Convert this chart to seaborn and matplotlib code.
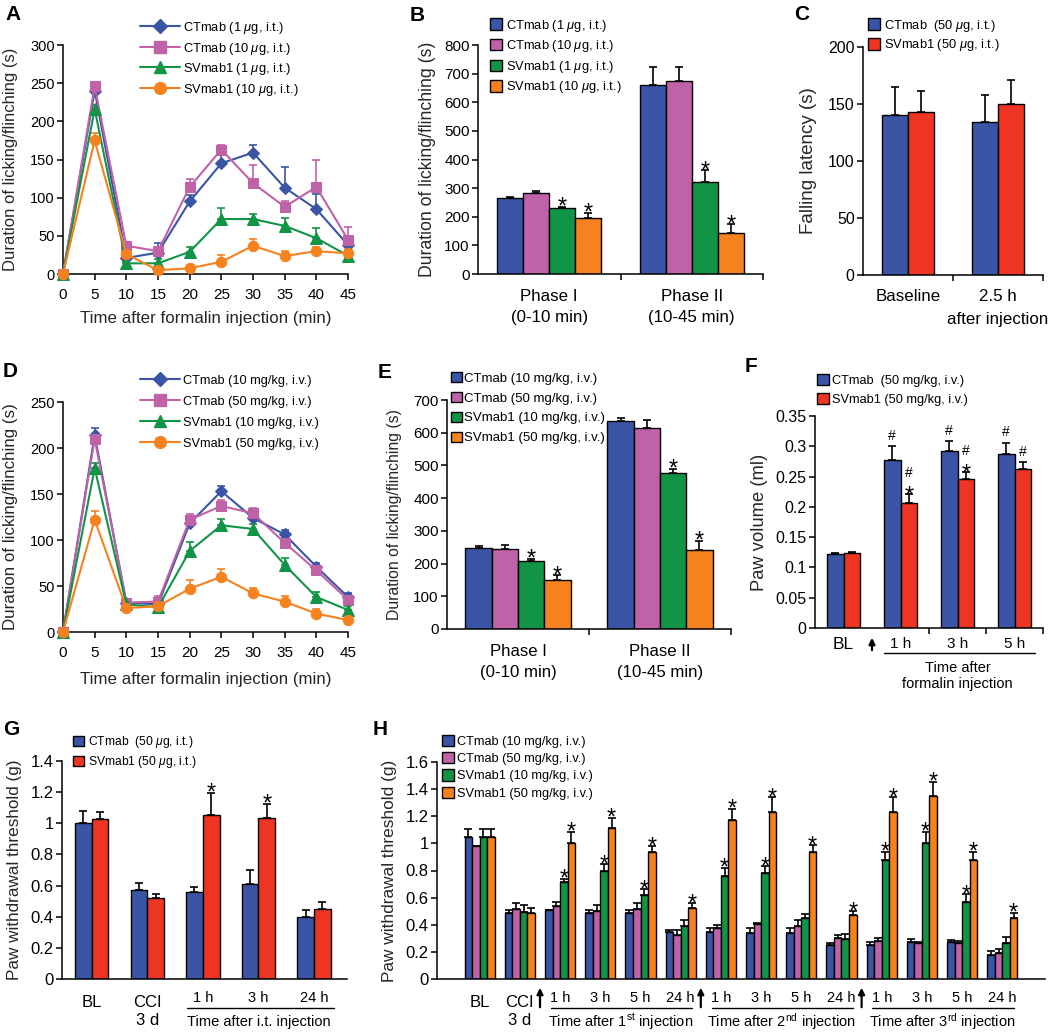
import numpy as np
import pandas as pd
import matplotlib
matplotlib.use("Agg")
import matplotlib.pyplot as plt
import seaborn as sns
from matplotlib.patches import Patch
from matplotlib.lines import Line2D
from matplotlib.ticker import FuncFormatter
from matplotlib.transforms import blended_transform_factory, ScaledTranslation

# ----------------------------------------------------------------------------
# data
# ----------------------------------------------------------------------------
times = [0, 5, 10, 15, 20, 25, 30, 35, 40, 45]

# A  (intrathecal, formalin time course)
a_names = [r"CTmab (1 $\mu$g, i.t.)", r"CTmab (10 $\mu$g, i.t.)",
           r"SVmab1 (1 $\mu$g, i.t.)", r"SVmab1 (10 $\mu$g, i.t.)"]
a_ct1 = [0, 240, 21, 28, 95, 145, 159, 113, 85, 38]
a_ct10 = [0, 246, 37, 30, 114, 163, 119, 88, 114, 45]
a_sv1 = [0, 216, 14, 14, 29, 72, 72, 63, 47, 24]
a_sv10 = [0, 175, 26, 5, 7.5, 16, 37, 23.5, 30, 27]
a_ct1_sem = [0, 4, 4, 12, 9, 14, 10, 27, 20, 8]
a_ct10_sem = [0, 3, 5, 5, 10, 6, 24, 8, 36, 17]
a_sv1_sem = [0, 5, 3, 6, 6, 14, 6, 11, 13, 4]
a_sv10_sem = [0, 10, 3, 2, 2, 9, 9, 6, 6, 4]

# D  (intravenous, formalin time course)
d_names = ["CTmab (10 mg/kg, i.v.)", "CTmab (50 mg/kg, i.v.)",
           "SVmab1 (10 mg/kg, i.v.)", "SVmab1 (50 mg/kg, i.v.)"]
d_ct10 = [0, 214, 32, 30, 118, 153, 124, 106, 71, 38]
d_ct50 = [0, 210, 32, 33, 122, 137, 129, 97, 67, 35]
d_sv10 = [0, 178, 30, 27, 88, 116, 112, 73, 38, 24]
d_sv50 = [0, 122, 26, 28, 47, 60, 42, 33, 20, 13]
d_ct10_sem = [0, 8, 3, 3, 4, 6, 4, 5, 4, 4]
d_ct50_sem = [0, 5, 4, 6, 6, 6, 6, 5, 4, 4]
d_sv10_sem = [0, 6, 3, 3, 10, 7, 5, 7, 6, 4]
d_sv50_sem = [0, 10, 3, 3, 9, 9, 6, 6, 5, 3]

# B
phases = ["Phase I\n(0-10 min)", "Phase II\n(10-45 min)"]
b_ct1 = [264, 660]
b_ct10 = [282, 674]
b_sv1 = [232, 322]
b_sv10 = [197, 144]
b_sems = [[6, 62], [8, 50], [3, 41], [17, 30]]
b_stars = [[0, 0], [0, 0], [1, 1], [1, 1]]

# C
c_names = [r"CTmab  (50 $\mu$g, i.t.)", r"SVmab1 (50 $\mu$g, i.t.)"]
c_cats = ["Baseline", "2.5 h\nafter injection"]
c_ct = [140, 134]
c_sv = [143, 150]
c_sems = [[25, 24], [18, 21]]

# E
e_ct10 = [247, 636]
e_ct50 = [245, 615]
e_sv10 = [209, 476]
e_sv50 = [149, 241]
e_sems = [[8, 10], [13, 25], [6, 14], [15, 28]]
e_stars = [[0, 0], [0, 0], [1, 1], [1, 1]]

# F
f_names = ["CTmab  (50 mg/kg, i.v.)", "SVmab1 (50 mg/kg, i.v.)"]
f_cats = ["BL", "1 h", "3 h", "5 h"]
f_ct = [0.122, 0.278, 0.292, 0.288]
f_sv = [0.123, 0.207, 0.246, 0.263]
f_sems = [[0.002, 0.022, 0.016, 0.018], [0.002, 0.014, 0.011, 0.011]]
f_hash = [[0, 1, 1, 1], [0, 1, 1, 1]]
f_stars = [[0, 0, 0, 0], [0, 1, 1, 0]]

# G
g_names = [r"CTmab  (50 $\mu$g, i.t.)", r"SVmab1 (50 $\mu$g, i.t.)"]
g_cats = ["BL", "CCI\n3 d", "1 h", "3 h", "24 h"]
g_ct = [1.0, 0.573, 0.557, 0.608, 0.395]
g_sv = [1.028, 0.518, 1.054, 1.032, 0.447]
g_sems = [[0.078, 0.042, 0.032, 0.092, 0.048], [0.046, 0.03, 0.14, 0.095, 0.045]]
g_stars = [[0, 0, 0, 0, 0], [0, 0, 1, 1, 0]]

# H
h_keys = ["BL", "CCI", "1h_1", "3h_1", "5h_1", "24h_1", "1h_2", "3h_2", "5h_2",
          "24h_2", "1h_3", "3h_3", "5h_3", "24h_3"]
h_labels = ["BL", "CCI\n3 d", "1 h", "3 h", "5 h", "24 h", "1 h", "3 h", "5 h",
            "24 h", "1 h", "3 h", "5 h", "24 h"]
h_ct10 = [1.045, 0.488, 0.51, 0.49, 0.49, 0.345, 0.348, 0.336, 0.336, 0.25, 0.25, 0.275, 0.27, 0.177]
h_ct50 = [0.98, 0.513, 0.54, 0.50, 0.513, 0.324, 0.378, 0.405, 0.39, 0.304, 0.28, 0.263, 0.263, 0.194]
h_sv10 = [1.045, 0.496, 0.712, 0.80, 0.618, 0.393, 0.76, 0.778, 0.447, 0.297, 0.874, 1.004, 0.567, 0.267]
h_sv50 = [1.045, 0.488, 1.004, 1.112, 0.937, 0.52, 1.175, 1.23, 0.937, 0.471, 1.23, 1.347, 0.874, 0.452]
h_sems = [
    [0.06, 0.022, 0.0, 0.018, 0.018, 0.016, 0.03, 0.04, 0.04, 0.017, 0.02, 0.018, 0.02, 0.03],
    [0.0, 0.044, 0.03, 0.042, 0.044, 0.036, 0.02, 0.005, 0.044, 0.02, 0.02, 0.01, 0.017, 0.024],
    [0.06, 0.049, 0.029, 0.047, 0.042, 0.041, 0.06, 0.052, 0.029, 0.032, 0.063, 0.081, 0.059, 0.04],
    [0.06, 0.032, 0.081, 0.078, 0.043, 0.037, 0.081, 0.11, 0.05, 0.029, 0.11, 0.106, 0.063, 0.038],
]
h_stars = [
    [0] * 14,
    [0] * 14,
    [0, 0, 1, 1, 1, 0, 1, 1, 0, 0, 1, 1, 1, 0],
    [0, 0, 1, 1, 1, 1, 1, 1, 1, 1, 1, 1, 1, 1],
]
h_groups = ["Time after 1$^{\\rm st}$ injection", "Time after 2$^{\\rm nd}$ injection",
            "Time after 3$^{\\rm rd}$ injection"]

BLUE = "#3a55a5"
PINK = "#c062a8"
GREEN = "#129447"
ORANGE = "#f5821f"
RED = "#ee3524"
four_colors = [BLUE, PINK, GREEN, ORANGE]
two_colors = [BLUE, RED]

# ----------------------------------------------------------------------------
W, H = 1050, 1032
sns.set_theme(style="ticks")
plt.rcParams["font.family"] = ["Liberation Sans", "DejaVu Sans"]
plt.rcParams["mathtext.fontset"] = "custom"
plt.rcParams["mathtext.rm"] = "Liberation Sans"
plt.rcParams["mathtext.it"] = "Liberation Sans:italic"
plt.rcParams["axes.linewidth"] = 1.1
plt.rcParams["axes.edgecolor"] = "black"
plt.rcParams["text.color"] = "black"
plt.rcParams["xtick.color"] = "black"
plt.rcParams["ytick.color"] = "black"

fig = plt.figure(figsize=(W / 100, H / 100), dpi=100)
fmt = FuncFormatter(lambda v, _: f"{round(v, 4):g}")


def add_ax(x0, y0, x1, y1):
    ax = fig.add_axes([x0 / W, 1 - y1 / H, (x1 - x0) / W, (y1 - y0) / H])
    return ax


def fy(y):
    return 1 - y / H


def finish_axes(ax, ylabel, label_right_px, ax_left, ax_w, tick_fs, label_fs):
    sns.despine(ax=ax)
    ax.tick_params(axis="y", direction="out", length=4, width=1.1, labelsize=tick_fs, pad=2)
    ax.set_ylabel(ylabel, fontsize=label_fs)
    ax.yaxis.set_label_coords((label_right_px - ax_left) / ax_w, 0.5)
    ax.yaxis.set_major_formatter(fmt)


def legend(ax, handles, labels, x, y, fs=9.3, ls=0.34, hl=0.95, hh=0.95, htp=0.25):
    ax.legend(handles, labels, loc="upper left", bbox_to_anchor=(x / W, fy(y)),
              bbox_transform=fig.transFigure, frameon=False, borderpad=0,
              borderaxespad=0, fontsize=fs, labelspacing=ls, handlelength=hl,
              handleheight=hh, handletextpad=htp)


def patches(colors):
    return [Patch(facecolor=c, edgecolor="black", linewidth=1) for c in colors]


def bars(ax, cats, names, series, sems, colors, width):
    rows = []
    for n, vals in zip(names, series):
        for c, v in zip(cats, vals):
            rows.append((c, n, v))
    df = pd.DataFrame(rows, columns=["cat", "grp", "val"])
    sns.barplot(data=df, x="cat", y="val", hue="grp", order=cats, hue_order=names,
                palette=colors, width=width, edgecolor="black", linewidth=1,
                errorbar=None, legend=False, saturation=1, ax=ax)
    tops = []
    for cont, sem in zip(ax.containers, sems):
        xs = np.array([b.get_x() + b.get_width() / 2 for b in cont])
        ys = np.array([b.get_height() for b in cont])
        ax.errorbar(xs, ys, yerr=[np.zeros(len(ys)), sem], fmt="none", ecolor="black",
                    elinewidth=1.2, capsize=3, capthick=1.2, zorder=3)
        tops.append((xs, ys + np.array(sem)))
    ax.set_xlabel("")
    return tops


def marks(ax, tops, flags, text="*", size=17, dy=-5):
    for (xs, ys), fl in zip(tops, flags):
        for x, y, f in zip(xs, ys, fl):
            if f:
                ax.annotate(text, (x, y), xytext=(0, dy), textcoords="offset points",
                            ha="center", va="baseline", fontsize=size)


def time_course(ax, series, sems, ymax, ystep):
    markers = ["D", "s", "^", "o"]
    msizes = [6, 7, 8, 7.5]
    handles = []
    for vals, sem, c, m, ms in zip(series, sems, four_colors, markers, msizes):
        ax.errorbar(times, vals, yerr=[np.zeros(len(vals)), sem], fmt="none", ecolor=c,
                    elinewidth=1.2, capsize=3, capthick=1.2, zorder=2, clip_on=False)
        sns.lineplot(x=times, y=vals, color=c, marker=m, markersize=ms, markeredgecolor=c,
                     linewidth=1.5, ax=ax, legend=False, zorder=3)
        ax.lines[-1].set_clip_on(False)
        handles.append(Line2D([0], [0], color=c, marker=m, markersize=ms + 1,
                              markeredgecolor=c, lw=1.5))
    ax.set_xlim(0, 45)
    ax.set_ylim(0, ymax)
    ax.set_xticks(times)
    ax.set_yticks(np.arange(0, ymax + 1, ystep))
    ax.tick_params(axis="x", direction="out", length=4, width=1.1, labelsize=11, pad=6)
    return handles


# ---------------------------- A ---------------------------------------------
axA = add_ax(63, 45, 348, 274)
hA = time_course(axA, [a_ct1, a_ct10, a_sv1, a_sv10],
                 [a_ct1_sem, a_ct10_sem, a_sv1_sem, a_sv10_sem], 300, 50)
finish_axes(axA, "Duration of licking/flinching (s)", 18, 63, 285, 10.5, 12)
axA.set_xlabel("Time after formalin injection (min)", fontsize=12.2)
axA.xaxis.set_label_coords(0.5, -(311 - 274) / 229)
legend(axA, hA, a_names, 140, 20.5, hl=3.1, htp=0.25)

# ---------------------------- D ---------------------------------------------
axD = add_ax(63, 402, 348, 632)
hD = time_course(axD, [d_ct10, d_ct50, d_sv10, d_sv50],
                 [d_ct10_sem, d_ct50_sem, d_sv10_sem, d_sv50_sem], 250, 50)
finish_axes(axD, "Duration of licking/flinching (s)", 18, 63, 285, 10.5, 12.2)
axD.set_xlabel("Time after formalin injection (min)", fontsize=12.2)
axD.xaxis.set_label_coords(0.5, -(672 - 632) / 230)
legend(axD, hD, d_names, 140, 374.5, fs=9.2, ls=0.62, hl=3.1, htp=0.25)


def phase_axes(ax, n, fs, pad, ls):
    ax.set_xlim(-0.5, n - 0.5)
    ax.set_xticks(np.arange(0.5, n, 1.0), minor=True)
    ax.tick_params(axis="x", which="minor", direction="out", length=4, width=1.1)
    ax.tick_params(axis="x", which="major", length=0, labelsize=fs, pad=pad)
    for t in ax.get_xticklabels():
        t.set_linespacing(ls)


# ---------------------------- B ---------------------------------------------
axB = add_ax(478, 45, 763, 274)
tB = bars(axB, phases, a_names, [b_ct1, b_ct10, b_sv1, b_sv10], b_sems, four_colors, 0.73)
axB.set_ylim(0, 800)
axB.set_yticks(np.arange(0, 801, 100))
phase_axes(axB, 2, 12.2, 10.5, 1.5)
finish_axes(axB, "Duration of licking/flinching (s)", 436, 478, 285, 11, 12.7)
marks(axB, tB, b_stars)
legend(axB, patches(four_colors), a_names, 490, 17.5, ls=0.36)

# ---------------------------- C ---------------------------------------------
axC = add_ax(863, 47, 1043, 275)
tC = bars(axC, c_cats, c_names, [c_ct, c_sv], c_sems, two_colors, 0.57)
axC.set_ylim(0, 200)
axC.set_yticks(np.arange(0, 201, 50))
phase_axes(axC, 2, 12.2, 10, 1.65)
finish_axes(axC, "Falling latency (s)", 817, 863, 180, 11.5, 13.5)
legend(axC, patches(two_colors), c_names, 868, 17.5, ls=0.3)

# ---------------------------- E ---------------------------------------------
axE = add_ax(447, 400, 731, 629)
tE = bars(axE, phases, d_names, [e_ct10, e_ct50, e_sv10, e_sv50], e_sems, four_colors, 0.74)
axE.set_ylim(0, 700)
axE.set_yticks(np.arange(0, 701, 100))
phase_axes(axE, 2, 12.1, 11, 1.45)
finish_axes(axE, "Duration of licking/flinching (s)", 402, 447, 284, 11, 11.3)
marks(axE, tE, e_stars)
legend(axE, patches(four_colors), d_names, 451, 372, fs=9.5, ls=0.55, hl=0.8, hh=0.8, htp=0.15)

# ---------------------------- F ---------------------------------------------
axF = add_ax(815, 416, 1043, 628)
tF = bars(axF, f_cats, f_names, [f_ct, f_sv], f_sems, two_colors, 0.58)
axF.set_ylim(0, 0.35)
axF.set_yticks(np.arange(0, 0.351, 0.05))
axF.set_xlim(-0.5, 3.5)
axF.set_xticks([1.5, 2.5, 3.5], minor=True)
axF.tick_params(axis="x", which="minor", direction="out", length=4, width=1.1)
axF.tick_params(axis="x", which="major", length=0, labelsize=11, pad=6.5)
axF.get_xticklabels()[0].set_fontsize(12.5)
finish_axes(axF, "Paw volume (ml)", 768, 815, 228, 11.5, 13.2)
marks(axF, tF, f_stars, dy=-6)
for (xs, ys), hs, st in zip(tF, f_hash, f_stars):
    for x, y, h_, s_ in zip(xs, ys, hs, st):
        if h_:
            axF.annotate("#", (x, y), xytext=(0, 12.5 if s_ else 4.5), textcoords="offset points",
                         ha="center", va="baseline", fontsize=10)
legend(axF, patches(two_colors), f_names, 817, 374, fs=9.2, ls=0.5)
trF = blended_transform_factory(axF.transData, fig.transFigure)
axF.annotate("", xy=(0.5, fy(635)), xytext=(0.5, fy(653)), xycoords=trF, textcoords=trF,
             arrowprops=dict(arrowstyle="-|>", color="black", lw=1.6, mutation_scale=9))
axF.plot([0.71, 3.36], [fy(653), fy(653)], color="black", lw=1, transform=trF, clip_on=False)
axF.text(2.0, fy(676), "Time after\nformalin injection", transform=trF, ha="center",
         va="center", fontsize=10.5, linespacing=1.25)

# ---------------------------- G ---------------------------------------------
axG = add_ax(62, 761, 347, 979)
tG = bars(axG, g_cats, g_names, [g_ct, g_sv], g_sems, two_colors, 0.6)
axG.set_ylim(0, 1.4)
axG.set_yticks(np.arange(0, 1.41, 0.2))
axG.tick_params(axis="x", which="major", length=0, labelsize=10.5, pad=8.5)
finish_axes(axG, "Paw withdrawal threshold (g)", 22, 62, 285, 12, 12.3)
marks(axG, tG, g_stars)
legend(axG, patches(two_colors), g_names, 73, 734, fs=8.7, ls=0.36)
trG = blended_transform_factory(axG.transData, fig.transFigure)
axG.plot([1.71, 4.36], [fy(1008), fy(1008)], color="black", lw=1, transform=trG, clip_on=False)
axG.text(3.0, fy(1022), "Time after i.t. injection", transform=trG, ha="center",
         va="center", fontsize=10.5)

# ---------------------------- H ---------------------------------------------
axH = add_ax(437, 762, 1045, 979)
tH = bars(axH, h_keys, d_names, [h_ct10, h_ct50, h_sv10, h_sv50], h_sems, four_colors, 0.75)
axH.set_ylim(0, 1.6)
axH.set_yticks(np.arange(0, 1.61, 0.2))
axH.set_xticks(range(len(h_keys)))
axH.set_xticklabels(h_labels)
axH.tick_params(axis="x", which="major", length=0, labelsize=10.5, pad=8.5)
finish_axes(axH, "Paw withdrawal threshold (g)", 397, 437, 608, 12, 12.4)
marks(axH, tH, h_stars)
legend(axH, patches(four_colors), d_names, 442, 735, fs=9.2, ls=0.34)
trH = blended_transform_factory(axH.transData, fig.transFigure)
for k, name in enumerate(h_groups):
    a, b = 2 + 4 * k, 5 + 4 * k
    axH.plot([a - 0.23, b + 0.28], [fy(1008), fy(1008)], color="black", lw=1,
             transform=trH, clip_on=False)
    axH.text((a + b) / 2, fy(1022), name, transform=trH, ha="center", va="center", fontsize=10.5)
    axH.annotate("", xy=(a - 0.5, fy(985)), xytext=(a - 0.5, fy(1010)), xycoords=trH,
                 textcoords=trH,
                 arrowprops=dict(arrowstyle="-|>", color="black", lw=1.6, mutation_scale=9))

# BL / CCI labels are larger and sit a little lower than the time labels
for axx in [axG, axH]:
    for t in axx.get_xticklabels()[:2]:
        t.set_fontsize(12)
        t.set_linespacing(1.2)
        t.set_transform(t.get_transform() + ScaledTranslation(0, -0.045, fig.dpi_scale_trans))

# panel letters
for letter, x, y in [("A", 5, 20), ("B", 410, 21), ("C", 794, 20), ("D", 3, 377),
                     ("E", 378, 378), ("F", 745, 372), ("G", 3, 735), ("H", 373, 735)]:
    fig.text(x / W, fy(y), letter, fontsize=15, fontweight="bold", va="baseline", ha="left")

fig.savefig("out.png", dpi=100)
